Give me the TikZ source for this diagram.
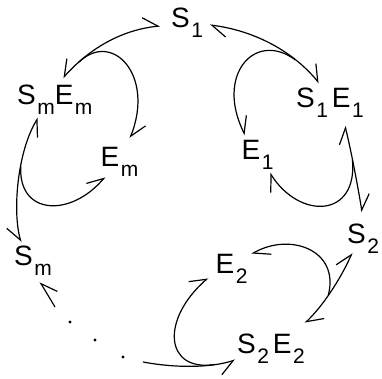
\documentclass[tikz,border=0pt]{standalone}
\usepackage{fontspec}
\newfontfamily\lblfont{Liberation Sans}
\usetikzlibrary{arrows.meta}
\newcommand{\low}[1]{\kern1.5pt\raisebox{-10pt}{\fontsize{21}{21}\selectfont #1}}

\begin{document}
\begin{tikzpicture}[x=1pt,y=-1pt,line width=1.2pt,
    lbl/.style={anchor=base west,inner sep=0pt,font={\lblfont\fontsize{28}{30}\selectfont}},
    dot/.style={circle,fill,inner sep=0pt,minimum size=3.4pt},
    hl/.tip={Straight Barb[left,length=15pt,width=20pt]},
    hr/.tip={Straight Barb[right,length=15pt,width=20pt]}]
  \useasboundingbox (0,0) rectangle (382,379);
  % species round the cycle
  \node[lbl] (s1)   at (170.5,28) {S\low{1}};
  \node[lbl] (s1e1) at (295.5,108) {S\low{1}\hspace{4pt}E\low{1}};
  \node[lbl] (e1)   at (241,160) {E\low{1}};
  \node[lbl] (s2)   at (346.5,243) {S\low{2}};
  \node[lbl] (e2)   at (215,273) {E\low{2}};
  \node[lbl] (s2e2) at (236.5,353) {S\low{2}\hspace{4pt}E\low{2}};
  \node[lbl] (smem) at (16.5,105) {S\low{m}E\low{m}};
  \node[lbl] (em)   at (100,167) {E\low{m}};
  \node[lbl] (sm)   at (13.5,265) {S\low{m}};
  % the dots between S2E2 and Sm
  \foreach \p [count=\i] in {(70,322),(95,340),(123,357)}
    \node[dot] (d\i) at \p {};
  \coordinate (dotsL) at (55,307);
  \coordinate (dotsR) at (143,362);

  % S1 <-> SmEm, Em split off
  \draw[hr-hl] ([shift={(46.5,-27)}]smem.base west) .. controls (88,50) and (120,30) ..
    ([shift={(-10.5,-2)}]s1.base west) coordinate[pos=0.2] (ma);
  \draw[-hl] (ma) .. controls (112,30) and (155,75) .. ([shift={(30,-29)}]em.base west);
  % Sm <-> SmEm, Em joins
  \draw[hr-hr] ([shift={(7.5,-23)}]sm.base west) .. controls (12,210) and (18,150) ..
    ([shift={(21.5,13)}]smem.base west) coordinate[pos=0.6] (mf);
  \draw[-hl] (mf) .. controls (18,215) and (70,218) .. ([shift={(5,10)}]em.base west);
  % S1 <-> S1E1, E1 split off
  \draw[hl-hl] ([shift={(39.5,-3)}]s1.base west) .. controls (250,30) and (290,48) ..
    ([shift={(23.5,-25)}]s1e1.base west) coordinate[pos=0.75] (mb);
  \draw[-hl] (mb) .. controls (255,30) and (215,75) .. ([shift={(4,-25)}]e1.base west);
  % S1E1 <-> S2
  \draw[hl-hl] ([shift={(49.5,18)}]s1e1.base west) .. controls (351,150) and (358,187) ..
    ([shift={(15.5,-31)}]s2.base west) coordinate[pos=0.4] (mc);
  \draw[-hl] (mc) .. controls (358,218) and (300,220) .. ([shift={(29,13)}]e1.base west);
  % S2 <-> S2E2
  \draw[hl-hl] ([shift={(5.5,10)}]s2.base west) .. controls (344,272) and (326,303) ..
    ([shift={(68.5,-30)}]s2e2.base west) coordinate[pos=0.6] (md);
  \draw[-hl] (md) .. controls (340,250) and (290,232) .. ([shift={(36.7,-19)}]e2.base west);
  % S2E2 -> ... -> Sm
  \draw[-hr] (dotsR) .. controls (175,368) and (210,368) ..
    ([shift={(-1.5,7)}]s2e2.base west) coordinate[pos=0.75] (me);
  \draw[-hl] (me) .. controls (165,372) and (160,320) .. ([shift={(-7,5)}]e2.base west);
  \draw[-hr] (dotsL) -- ([shift={(26.5,17)}]sm.base west);
\end{tikzpicture}
\end{document}
